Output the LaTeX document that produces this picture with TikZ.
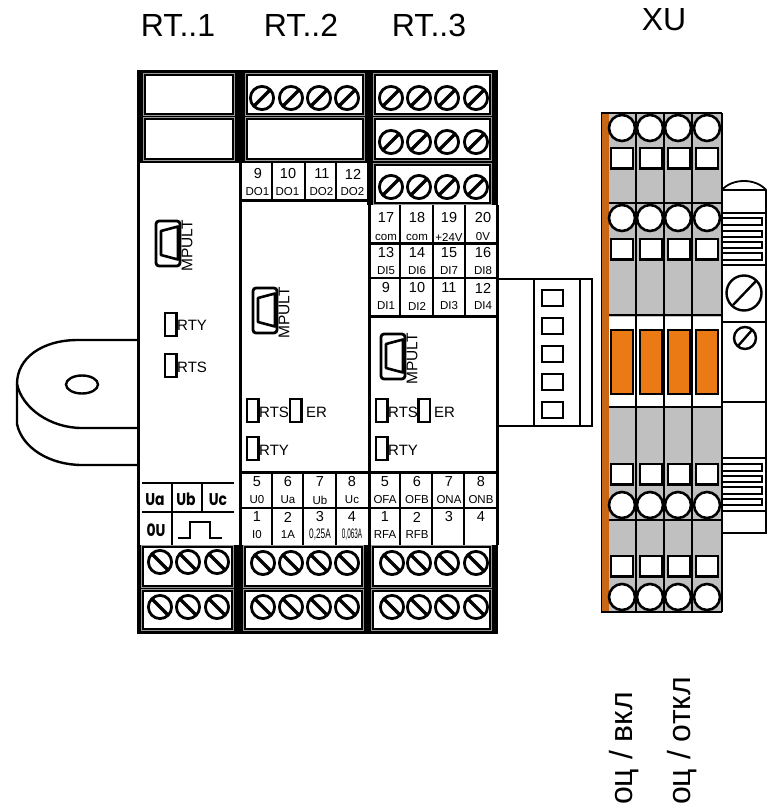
\documentclass[tikz,border=0pt]{standalone}
\usepackage{fontspec}
\usepackage{graphicx}
\setmainfont{Liberation Sans}
\newfontfamily\boldlab{Poppins}
\newcommand{\fs}[1]{\fontsize{#1}{#1}\selectfont}
\definecolor{stripcol}{RGB}{200,104,20}
\definecolor{orangecol}{RGB}{236,122,20}
\definecolor{greycol}{RGB}{192,192,192}
\tikzset{
  x=1pt,y=-1pt,
  ln/.style={draw=black,line width=#1},
  ln/.default=2.5,
  tblock/.style={fill=white,draw=black,line width=1},
  tframe/.style={draw=black!40,line width=1},
  num/.style={inner sep=0,font=\fs{14.5}},
  sub/.style={inner sep=0,font=\fs{11.5}},
  led/.style={inner sep=0,anchor=west,font=\fs{15}},
  ttl/.style={inner sep=0,font=\fs{32}},
  rot/.style={inner sep=0,rotate=90,anchor=base west,font=\fs{32}},
  bl/.style={inner sep=0,anchor=base,font=\boldlab\bfseries\fs{17}},
  sq/.style={fill=white,draw=black,line width=2.5},
}
\newcommand{\scrF}[2]{\draw[fill=white,line width=2.8] (#1,#2) circle[radius=11.6pt];\draw[line width=3.2] (#1-8,#2+8) -- (#1+8,#2-8);}
\newcommand{\scrB}[2]{\draw[fill=white,line width=2.8] (#1,#2) circle[radius=11.6pt];\draw[line width=3.2] (#1-8,#2-8) -- (#1+8,#2+8);}
\newcommand{\tb}[4]{\draw[tframe] (#1-2,#2-2) rectangle (#3+2,#4+2);\draw[tblock] (#1,#2) rectangle (#3,#4);}
\newcommand{\ledbox}[2]{\draw[fill=white,line width=2.4] (#1,#2) rectangle ++(11.5,23);}
\newcommand{\mpult}[2]{%
  \draw[fill=white,line width=2.8,rounded corners=3pt] (#1,#2) rectangle ++(24,45);
  \draw[line width=2.6,line join=round,fill=white] (#1+22,#2+5.5) -- (#1+5,#2+10) -- (#1+5,#2+34) -- (#1+22,#2+38.5) -- cycle;
  \node[inner sep=0,rotate=90,font=\fs{15.5}] at (#1+31,#2+25) {MPULT};
}
\begin{document}
\begin{tikzpicture}
\useasboundingbox (0,0) rectangle (769,809);
% titles
\node[ttl] at (178,25) {RT..1};
\node[ttl] at (301,25) {RT..2};
\node[ttl] at (429,25) {RT..3};
\node[ttl] at (664,20) {XU};
% ring on the left
\draw[ln=2.4,fill=white] (137,340) -- (78,340) .. controls (42,340) and (17,358) .. (17,384)
  -- (17,424) .. controls (22,448) and (50,465) .. (82,465) -- (137,465);
\draw[ln=2.4] (17,384) .. controls (22,408) and (50,428) .. (82,428) -- (137,428);
\draw[ln=2.4] (82,384.5) ellipse[x radius=16pt,y radius=9pt];
% right connector
\draw[ln=2.4] (497,279) -- (592,279) -- (592,426) -- (497,426);
\draw[ln=2.6] (534,279) -- (534,426);
\draw[ln=2.6] (580,279) -- (580,426);
\foreach \yy in {290,318,346,374,402}{\draw[ln=2.6] (542,\yy) rectangle (563,\yy+16);}
% module backgrounds
\fill (137,70) rectangle (498,163);
\fill (366,163) rectangle (498,205);
\fill (137,545) rectangle (498,634);
\fill[white] (139,163) rectangle (238,545);
\fill[white] (242,163) rectangle (367,545);
\fill[white] (371,205) rectangle (496,545);
\draw[ln=3] (138,162) -- (138,545);
\draw[ln=3] (240,162) -- (240,545);
\draw[ln=3] (369,200) -- (369,545);
\draw[ln=3] (497,205) -- (497,545);
% top terminal blocks
\tb{145.5}{75.5}{232.5}{113.5}
\tb{145.5}{119.5}{232.5}{158}
\tb{247.5}{75.5}{362.5}{113.5}
\tb{247.5}{119.5}{362.5}{158}
\tb{375.5}{75.5}{489.5}{113.5}
\tb{375.5}{119.5}{489.5}{158}
\tb{375.5}{165.5}{489.5}{202.5}
\foreach \xx in {262,291,319,347}{\scrF{\xx}{98}}
\foreach \xx in {391,419,447,476}{\scrF{\xx}{98}\scrF{\xx}{142}\scrF{\xx}{187}}
% bottom terminal blocks
\tb{143.5}{547.5}{231.5}{585.5}
\tb{143.5}{591.5}{231.5}{628.5}
\tb{245.5}{547.5}{361.5}{585.5}
\tb{245.5}{591.5}{361.5}{628.5}
\tb{373.5}{547.5}{489.5}{585.5}
\tb{373.5}{591.5}{489.5}{628.5}
\foreach \xx in {160,188,217}{\scrB{\xx}{562}\scrB{\xx}{607}}
\foreach \xx in {263,291,319,347}{\scrB{\xx}{563}\scrB{\xx}{607}}
\foreach \xx in {392,419,447,476}{\scrB{\xx}{563}\scrB{\xx}{607}}
% module 1 bottom labels
\draw[ln=2.2] (142,483) -- (234,483);
\draw[ln=2.2] (142,512) -- (234,512);
\draw[ln=2.2] (172,483) -- (172,545);
\draw[ln=2.2] (202,483) -- (202,512);
\node[bl,xscale=0.82] at (155,505) {Ua};
\node[bl,xscale=0.82] at (186,505) {Ub};
\node[bl,xscale=0.82] at (218,505) {Uc};
\node[bl,xscale=0.82] at (156,536) {0U};
\draw[ln=2.2] (178,538) -- (190,538) -- (190,522) -- (210,522) -- (210,538) -- (222,538);
% module 2 top labels
\draw[ln=3] (240,200) -- (369,200);
\foreach \xx in {272,305,336}{\draw[ln=2.4] (\xx,163) -- (\xx,199);}
\foreach \xx/\aa/\bb in {258/9/DO1,288/10/DO1,322/11/DO2,353/12/DO2}{
  \node[num] at (\xx,174) {\aa};
  \node[sub] at (\xx-0.5,192) {\bb};}
% module 3 top labels
\draw[ln=2.4] (370,243.5) -- (497,243.5);
\draw[ln=2.4] (370,278) -- (497,278);
\draw[ln=3] (370,316) -- (497,316);
\foreach \xx in {400,433,465}{\draw[ln=2.4] (\xx,205) -- (\xx,316);}
\foreach \xx/\aa/\bb/\cc/\dd/\ee/\ff in {386/17/com/13/DI5/9/DI1,417/18/com/14/DI6/10/DI2,449/19/+24V/15/DI7/11/DI3,483/20/0V/16/DI8/12/DI4}{
  \node[num] at (\xx,218) {\aa};
  \node[sub] at (\xx,237) {\bb};
  \node[num] at (\xx,253) {\cc};
  \node[sub] at (\xx,271) {\dd};
  \node[num] at (\xx,288) {\ee};
  \node[sub] at (\xx,306) {\ff};}
% lower label rows
\draw[ln=3] (240,472) -- (497,472);
\draw[ln=2.2] (240,508) -- (497,508);
\foreach \xx in {272,303,336,400,432,464}{\draw[ln=2.2] (\xx,473) -- (\xx,545);}
\foreach \xx/\aa/\bb/\cc/\dd in {257/5/U0/1/I0,288/6/Ua/2/1A,320/7/Ub/3/{\scalebox{0.72}[1.2]{0,25A}},352/8/Uc/4/{\scalebox{0.55}[1.2]{0,063A}},385/5/OFA/1/RFA,417/6/OFB/2/RFB}{
  \node[num] at (\xx,482) {\aa};
  \node[sub] at (\xx,500) {\bb};
  \node[num] at (\xx,517) {\cc};
  \node[sub] at (\xx,535) {\dd};}
\foreach \xx/\aa/\bb/\cc in {449/7/ONA/3,481/8/ONB/4}{
  \node[num] at (\xx,482) {\aa};
  \node[sub] at (\xx,500) {\bb};
  \node[num] at (\xx,517) {\cc};}
% MPULT
\mpult{156}{221}
\mpult{253}{288}
\mpult{381}{334}
% LEDs
\ledbox{165}{313}\node[led] at (177,325) {RTY};
\ledbox{165}{354}\node[led] at (177,367) {RTS};
\ledbox{247}{399}\node[led] at (259,412) {RTS};
\ledbox{290}{399}\node[led] at (306,412) {ER};
\ledbox{247}{437}\node[led] at (259,450) {RTY};
\ledbox{376}{399}\node[led] at (388,412) {RTS};
\ledbox{418.5}{399}\node[led] at (434,412) {ER};
\ledbox{376}{437}\node[led] at (388,450) {RTY};
% XU right piece
\draw[ln=1.8,fill=white] (722,190) .. controls (732,178) and (756,178) .. (766,190) -- (766,533) -- (722,533);
\foreach \yy in {190,213,265,322,402,458,511}{\draw[ln=1.4] (722,\yy) -- (766,\yy);}
\foreach \ya/\yb in {218/225,231/237,242/248,253/260,464/471,476/482,487/494,499/505}{
  \draw[ln=2.4] (722,\ya) -- (762,\ya) -- (762,\yb) -- (722,\yb);}
\draw[ln=2.4] (744,293) circle[radius=17.5pt];
\draw[ln=2.4] (733,305) -- (756,281);
\draw[ln=2.4] (745,338) circle[radius=11pt];
\draw[ln=2.4] (738,346) -- (752,330);
% XU terminal block
\fill[greycol] (609,112) rectangle (722,612);
\fill[stripcol] (601,112) rectangle (609,612);
\fill[white] (609,317) rectangle (722,406);
\foreach \xa in {611,640,668,696}{
  \draw[ln=2.6,fill=orangecol] (\xa,330) rectangle (\xa+22,394);
  \foreach \yy in {148,239,464,556}{\draw[sq] (\xa,\yy) rectangle (\xa+22,\yy+20.5);}
}
\draw[ln=2.6] (601,113) -- (722,113);
\foreach \yy in {203,315,407,520}{\draw[ln=2.6] (609,\yy) -- (722,\yy);}
\draw[ln=2.6] (601,612) -- (722,612);
\foreach \xx in {636,664,692,722}{\draw[ln=2.6] (\xx,113) -- (\xx,612);}
\foreach \xx in {622,650,678,707}{
  \foreach \yy in {128,218,505,597}{\draw[ln=2.6,fill=white] (\xx,\yy) circle[radius=13pt];}
}
\draw[ln=0.8] (601,113) -- (601,612);
% vertical captions
\node[rot] at (632,805) {оц / вкл};
\node[rot] at (690,805) {оц / откл};
\end{tikzpicture}
\end{document}
